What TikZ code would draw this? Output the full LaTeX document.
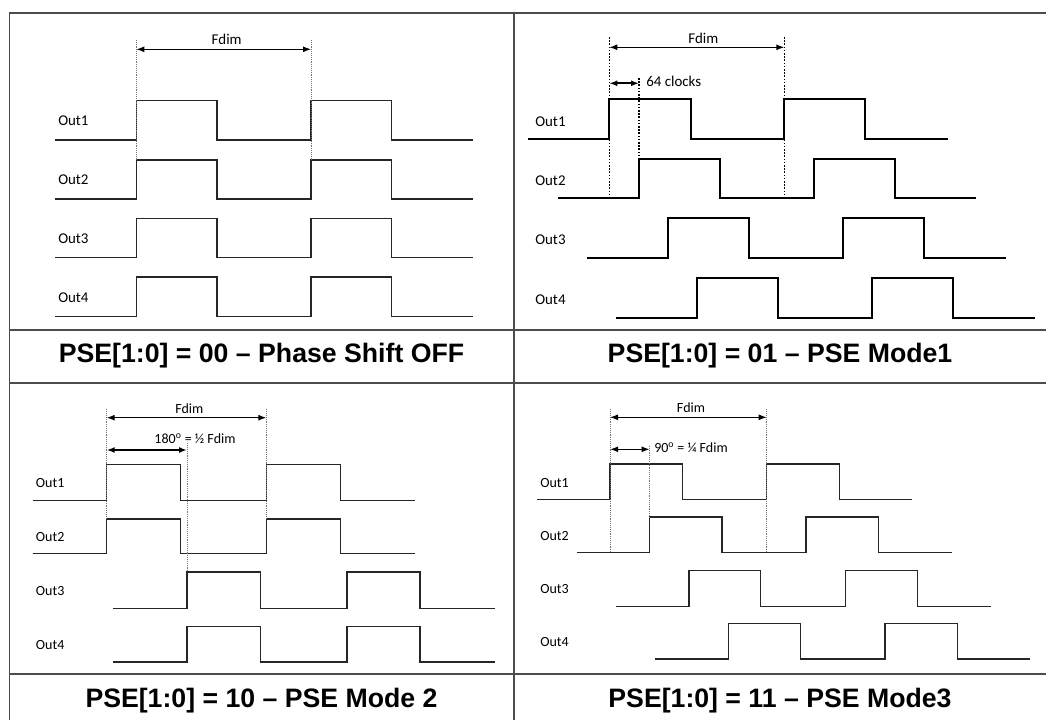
\documentclass[tikz,border=0pt]{standalone}
\usepackage{fontspec}
\setmainfont{Carlito}
\newfontfamily\capfont{Liberation Sans}
\usetikzlibrary{arrows.meta}
\newcommand{\sigwave}[9]{\draw[#1] (#2,#8) -| (#3,#9) -| (#4,#8) -| (#5,#9) -| (#6,#8) -- (#7,#8);}
\begin{document}
\begin{tikzpicture}[x=0.75pt,y=-0.75pt,
  frameline/.style={draw=black!70, line width=1.4pt},
  wave/.style={draw=black!85, line width=1pt, line join=miter},
  wavebold/.style={draw=black, line width=1.4pt, line join=miter},
  dotline/.style={draw=black!55, line width=0.6pt, dash pattern=on 0.7pt off 0.7pt},
  dotbold/.style={draw=black, line width=1.1pt, dash pattern=on 1.2pt off 1.2pt},
  dim/.style={draw=black, line width=0.9pt, {Latex[length=6pt,width=4.5pt]}-{Latex[length=6pt,width=4.5pt]}},
  captext/.style={font=\capfont\bfseries\fontsize{20}{24}\selectfont, inner sep=0pt},
  lab/.style={font=\fontsize{11.2}{13}\selectfont, inner sep=0pt, anchor=west},
  labs/.style={font=\fontsize{10.5}{12}\selectfont, inner sep=0pt, anchor=west},
  txt/.style={font=\fontsize{11.2}{13}\selectfont, inner sep=0pt},
  txts/.style={font=\fontsize{10.5}{12}\selectfont, inner sep=0pt}
]
\useasboundingbox (0,0) rectangle (1046,720);
% frame
\draw[frameline] (9.5,720) |- (1046,13);
\draw[frameline] (514,13) -- (514,720);
\draw[frameline] (9.5,330) -- (1046,330);
\draw[frameline] (9.5,383) -- (1046,383);
\draw[frameline] (9.5,674) -- (1046,674);
% captions
\node[captext] (c1) at (261.5,356) {PSE[1:0] = 00 – Phase Shift OFF};
\node[captext] (c2) at (780,356) {PSE[1:0] = 01 – PSE Mode1};
\node[captext] (c3) at (261.5,701) {PSE[1:0] = 10 – PSE Mode 2};
\node[captext] (c4) at (780,701) {PSE[1:0] = 11 – PSE Mode3};

% ===== Q1 =====
\node[lab] (q1l1) at (58,121) {Out1};
\node[lab] (q1l2) at (58,180) {Out2};
\node[lab] (q1l3) at (58,239) {Out3};
\node[lab] (q1l4) at (58,297.3) {Out4};
\sigwave{wave}{55.3}{136.3}{217}{311}{391.7}{473}{140}{100.7}
\sigwave{wave}{55.3}{136.3}{217}{311}{391.7}{473}{199}{160}
\sigwave{wave}{55.3}{136.3}{217}{311}{391.7}{473}{257.7}{218.7}
\sigwave{wave}{55.3}{136.3}{217}{311}{391.7}{473}{316.3}{277}
\draw[dotline] (136.3,40) -- (136.3,160);
\draw[dotline] (311,40) -- (311,160);
\coordinate (q1a) at (136.3,49.3);
\coordinate (q1b) at (311,49.3);
\draw[dim] (q1a) -- (q1b);
\node[txt] (q1f) at (226.7,39) {Fdim};

% ===== Q2 =====
\node[lab] (q2l1) at (535,121.7) {Out1};
\node[lab] (q2l2) at (535,181) {Out2};
\node[lab] (q2l3) at (535,240) {Out3};
\node[lab] (q2l4) at (535,299.3) {Out4};
\sigwave{wavebold}{528.3}{609.3}{690.7}{784.3}{865}{947.7}{138.7}{99}
\sigwave{wavebold}{557.7}{639}{720}{813.7}{894.7}{976.3}{198}{158.7}
\sigwave{wavebold}{587}{668}{749}{842.7}{924}{1005.7}{257.7}{218.3}
\sigwave{wavebold}{616}{697}{778}{872.3}{953.3}{1035}{317.7}{277.7}
\draw[dotbold] (609.3,37) -- (609.3,198);
\draw[dotbold] (784.3,37) -- (784.3,198);
\draw[dotbold] (639,78) -- (639,158.7);
\coordinate (q2a) at (609.3,47.3);
\coordinate (q2b) at (784.3,47.3);
\draw[dim] (q2a) -- (q2b);
\node[txt] (q2f) at (703.3,38.3) {Fdim};
\coordinate (q2c) at (609.3,83.3);
\coordinate (q2d) at (639,83.3);
\draw[dim, line width=1.2pt] (q2c) -- (q2d);
\node[lab] (q2t) at (646,81) {64 clocks};

% ===== Q3 =====
\node[labs] (q3l1) at (35.7,483.3) {Out1};
\node[labs] (q3l2) at (35.7,536.7) {Out2};
\node[labs] (q3l3) at (35.7,590.7) {Out3};
\node[labs] (q3l4) at (35.7,645) {Out4};
\sigwave{wave}{32.7}{106.7}{180.7}{266.3}{340.3}{415}{500.3}{464.7}
\sigwave{wave}{32.7}{106.7}{180.7}{266.3}{340.3}{415}{553.7}{519}
\sigwave{wave}{113.3}{187}{260.3}{347}{420}{495}{608.3}{572}
\sigwave{wave}{113.3}{187}{260.3}{347}{420}{495}{662}{626.3}
\draw[dotline] (106.7,409.3) -- (106.7,519);
\draw[dotline] (266.3,409.3) -- (266.3,519);
\draw[dotline] (187,443.3) -- (187,572);
\coordinate (q3a) at (106.7,417.7);
\coordinate (q3b) at (266.3,417.7);
\draw[dim] (q3a) -- (q3b);
\node[txts] (q3f) at (189.3,408.3) {Fdim};
\coordinate (q3c) at (106.7,450);
\coordinate (q3d) at (187,450);
\draw[dim, line width=1.2pt] (q3c) -- (q3d);
\node[txts] (q3t) at (195,438.7) {180\textsuperscript{o} = ½ Fdim};

% ===== Q4 =====
\node[labs] (q4l1) at (540,482.7) {Out1};
\node[labs] (q4l2) at (540,535.7) {Out2};
\node[labs] (q4l3) at (540,589) {Out3};
\node[labs] (q4l4) at (540,642) {Out4};
\sigwave{wave}{537.3}{610}{682.7}{766.7}{839.3}{912.3}{499.3}{464}
\sigwave{wave}{577}{649.7}{722}{806}{878.7}{952}{552.3}{517}
\sigwave{wave}{615.7}{689}{760.7}{845.7}{917.7}{991.3}{606.3}{570.7}
\sigwave{wave}{655}{728.3}{800.3}{885}{957.7}{1030}{659}{623.7}
\draw[dotline] (610,409.3) -- (610,552.3);
\draw[dotline] (766.7,409.3) -- (766.7,552.3);
\draw[dotline] (649.7,446) -- (649.7,517);
\coordinate (q4a) at (610,417.3);
\coordinate (q4b) at (766.7,417.3);
\draw[dim] (q4a) -- (q4b);
\node[txts] (q4f) at (691,407.7) {Fdim};
\coordinate (q4c) at (610,449.3);
\coordinate (q4d) at (649.7,449.3);
\draw[dim, line width=1.2pt] (q4c) -- (q4d);
\node[labs] (q4t) at (654,447.7) {90\textsuperscript{o} = ¼ Fdim};
\end{tikzpicture}
\end{document}
